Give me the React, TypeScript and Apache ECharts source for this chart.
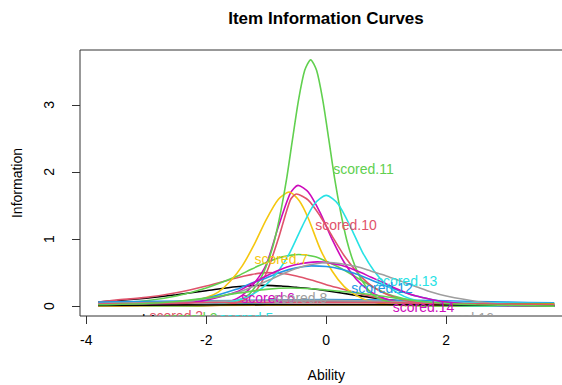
import React, { useEffect, useRef } from "react";
import * as echarts from "echarts";

type Pt = [number, number];

// R default palette (colour of item i = palette[(i-1) % 8])
const PALETTE = ["#000000", "#DF536B", "#61D04F", "#2297E6", "#28E2E5", "#CD0BBC", "#F5C710", "#9E9E9E"];

const xTicks = [-4, -2, 0, 2, 4];
const yTicks = [0, 1, 2, 3];

// Item information curves, [ability, information]
const scored1: Pt[] = [[-3.8, 0.06], [-3, 0.12], [-2.5, 0.17], [-2, 0.23], [-1.5, 0.29], [-1, 0.31], [-0.75, 0.3], [-0.5, 0.28], [-0.25, 0.26], [0, 0.23], [0.5, 0.16], [1, 0.1], [1.5, 0.06], [2, 0.03], [2.5, 0.015], [3, 0.006], [3.8, 0.0]];
const scored2: Pt[] = [[-3.8, 0.06], [-3.5, 0.09], [-3, 0.13], [-2.5, 0.2], [-2, 0.3], [-1.5, 0.42], [-1.25, 0.47], [-1, 0.5], [-0.75, 0.49], [-0.5, 0.45], [-0.25, 0.39], [0, 0.32], [0.25, 0.26], [0.5, 0.2], [0.75, 0.145], [1, 0.1], [1.5, 0.05], [2, 0.02], [2.5, 0.01], [3.8, 0.0]];
const scored3: Pt[] = [[-3.8, 0.03], [-3, 0.08], [-2.5, 0.15], [-2, 0.27], [-1.5, 0.44], [-1.25, 0.55], [-1, 0.65], [-0.75, 0.73], [-0.46, 0.77], [-0.2, 0.74], [0, 0.67], [0.25, 0.56], [0.5, 0.43], [0.75, 0.3], [1, 0.19], [1.25, 0.12], [1.5, 0.07], [2, 0.03], [2.5, 0.01], [3.8, 0.0]];
const scored4: Pt[] = [[-3.8, 0.06], [-2, 0.08], [-1, 0.09], [0, 0.1], [1, 0.09], [2, 0.08], [3, 0.06], [3.8, 0.05]];
const scored5: Pt[] = [[-3.8, 0.0], [-2.5, 0.02], [-1.5, 0.04], [-0.5, 0.06], [0.5, 0.07], [1.5, 0.06], [2.5, 0.05], [3.8, 0.04]];
const scored6: Pt[] = [[-3.8, 0.0], [-2.5, 0.002], [-2, 0.013], [-1.8, 0.03], [-1.6, 0.07], [-1.4, 0.16], [-1.2, 0.34], [-1.0, 0.62], [-0.8, 1.18], [-0.6, 1.68], [-0.47, 1.8], [-0.3, 1.7], [-0.1, 1.39], [0.1, 0.99], [0.3, 0.65], [0.5, 0.4], [0.7, 0.24], [0.9, 0.14], [1.1, 0.08], [1.4, 0.035], [1.8, 0.01], [2.5, 0.002], [3.8, 0.0]];
const scored7: Pt[] = [[-3.8, 0.0], [-3, 0.007], [-2.5, 0.03], [-2, 0.13], [-1.8, 0.21], [-1.6, 0.37], [-1.4, 0.6], [-1.2, 0.92], [-1.0, 1.29], [-0.8, 1.59], [-0.62, 1.7], [-0.45, 1.57], [-0.3, 1.31], [-0.1, 0.85], [0.1, 0.52], [0.3, 0.29], [0.5, 0.16], [0.7, 0.08], [1, 0.03], [1.5, 0.005], [3.8, 0.0]];
const scored8: Pt[] = [[-3.8, 0.04], [-2.5, 0.06], [-1.5, 0.08], [-0.5, 0.09], [0.5, 0.08], [1.5, 0.06], [2.5, 0.04], [3.8, 0.03]];
const scored9: Pt[] = [[-3.8, 0.02], [-2, 0.02], [0, 0.025], [2, 0.025], [3.8, 0.03]];
const scored10: Pt[] = [[-3.8, 0.0], [-2.5, 0.001], [-2, 0.005], [-1.6, 0.03], [-1.4, 0.08], [-1.2, 0.2], [-1.0, 0.49], [-0.8, 1.0], [-0.6, 1.58], [-0.5, 1.67], [-0.3, 1.58], [-0.1, 1.34], [0.1, 1.04], [0.3, 0.75], [0.5, 0.52], [0.7, 0.34], [0.9, 0.22], [1.1, 0.145], [1.4, 0.07], [1.8, 0.03], [2.5, 0.005], [3.8, 0.0]];
const scored11: Pt[] = [[-3.8, 0.0], [-2.26, 0.002], [-1.76, 0.025], [-1.46, 0.09], [-1.28, 0.18], [-1.16, 0.32], [-1.06, 0.47], [-0.96, 0.69], [-0.86, 0.99], [-0.76, 1.4], [-0.66, 1.9], [-0.56, 2.5], [-0.46, 3.08], [-0.36, 3.51], [-0.26, 3.67], [-0.16, 3.51], [-0.06, 3.08], [0.04, 2.5], [0.14, 1.9], [0.24, 1.4], [0.34, 0.99], [0.44, 0.69], [0.54, 0.47], [0.64, 0.32], [0.76, 0.18], [0.94, 0.09], [1.24, 0.025], [1.74, 0.002], [3.8, 0.0]];
const scored12: Pt[] = [[-3.8, 0.01], [-3, 0.03], [-2.5, 0.06], [-2, 0.12], [-1.5, 0.25], [-1.25, 0.34], [-1, 0.42], [-0.75, 0.51], [-0.5, 0.57], [-0.25, 0.6], [0, 0.59], [0.25, 0.55], [0.5, 0.48], [0.75, 0.39], [1, 0.3], [1.25, 0.22], [1.5, 0.15], [2, 0.06], [2.5, 0.02], [3, 0.01], [3.8, 0.0]];
const scored13: Pt[] = [[-3.8, 0.0], [-2.5, 0.005], [-2, 0.02], [-1.7, 0.045], [-1.4, 0.11], [-1.2, 0.19], [-1.0, 0.32], [-0.8, 0.52], [-0.6, 0.81], [-0.4, 1.19], [-0.2, 1.52], [0, 1.65], [0.2, 1.52], [0.4, 1.19], [0.6, 0.81], [0.8, 0.52], [1.0, 0.32], [1.2, 0.19], [1.4, 0.11], [1.7, 0.045], [2, 0.02], [2.5, 0.005], [3.8, 0.0]];
const scored14: Pt[] = [[-3.8, 0.0], [-3, 0.01], [-2.5, 0.03], [-2, 0.09], [-1.5, 0.21], [-1.25, 0.33], [-1, 0.45], [-0.75, 0.55], [-0.5, 0.62], [-0.15, 0.66], [0.25, 0.61], [0.5, 0.53], [0.75, 0.43], [1, 0.33], [1.25, 0.23], [1.5, 0.15], [1.75, 0.1], [2, 0.06], [2.5, 0.02], [3, 0.005], [3.8, 0.0]];
const scored15: Pt[] = [[-3.8, 0.0], [-2, 0.01], [0, 0.02], [2, 0.025], [3.8, 0.03]];
const scored16: Pt[] = [[-3.8, 0.01], [-3, 0.03], [-2.5, 0.06], [-2, 0.11], [-1.5, 0.2], [-1.25, 0.28], [-1, 0.37], [-0.75, 0.47], [-0.5, 0.56], [-0.25, 0.62], [0.05, 0.65], [0.5, 0.59], [0.75, 0.52], [1, 0.45], [1.25, 0.37], [1.5, 0.29], [1.75, 0.21], [2, 0.15], [2.5, 0.07], [3, 0.025], [3.8, 0.005]];
const scored17: Pt[] = [[-3.8, 0.01], [-1, 0.02], [1, 0.02], [3.8, 0.01]];
const scored18: Pt[] = [[-3.8, 0.03], [-2, 0.05], [0, 0.06], [2, 0.04], [3.8, 0.02]];
const scored19: Pt[] = [[-3.8, 0.02], [-3, 0.04], [-2.5, 0.07], [-2, 0.12], [-1.5, 0.19], [-1, 0.25], [-0.6, 0.27], [-0.25, 0.26], [0, 0.24], [0.5, 0.2], [1, 0.14], [1.5, 0.08], [2, 0.04], [2.5, 0.02], [3.8, 0.0]];

const itemCurves: Pt[][] = [scored1, scored2, scored3, scored4, scored5, scored6, scored7, scored8, scored9, scored10, scored11, scored12, scored13, scored14, scored15, scored16, scored17, scored18, scored19];
const itemNames = itemCurves.map((_, i) => "scored." + (i + 1));

// Curve labels (item number, position in data coordinates)
const labelItems = [11, 10, 7, 13, 12, 14, 6, 8, 2, 1, 3, 5, 16];
const labelX = [0.62, 0.33, -0.75, 1.34, 0.93, 1.62, -0.97, -0.43, -2.5, -3.27, -2.26, -1.33, 2.28];
const labelY = [2.05, 1.21, 0.7, 0.38, 0.265, -0.02, 0.12, 0.12, -0.15, -0.2, -0.18, -0.18, -0.18];

const FONT = '"Liberation Sans", Arial, sans-serif';

export default function App() {
  const ref = useRef<HTMLDivElement>(null);

  useEffect(() => {
    if (!ref.current) return;
    const chart = echarts.init(ref.current, undefined, { renderer: "svg" });

    const lineSeries = itemCurves.map((curve, i) => ({
      type: "line" as const,
      name: itemNames[i],
      data: curve,
      showSymbol: false,
      symbol: "none",
      smooth: 0.25,
      clip: true,
      lineStyle: { width: 1.6, color: PALETTE[i % 8] },
      itemStyle: { color: PALETTE[i % 8] },
      z: 2,
    }));

    const labelData = labelX.map((x, i) => [x, labelY[i], i]);

    chart.setOption({
      animation: false,
      backgroundColor: "#ffffff",
      graphic: [
        {
          type: "text",
          x: 326,
          y: 18,
          style: {
            text: "Item Information Curves",
            font: `bold 17px ${FONT}`,
            fill: "#000",
            align: "center",
            verticalAlign: "middle",
          },
        },
      ],
      grid: {
        left: 80,
        top: 50,
        right: 27.5,
        bottom: 69,
        show: true,
        borderColor: "#333",
        borderWidth: 1,
        backgroundColor: "transparent",
        containLabel: false,
        outerBoundsMode: "none",
      },
      xAxis: {
        type: "value",
        min: -4.104,
        max: 4.104,
        name: "Ability",
        nameLocation: "middle",
        nameGap: 52,
        nameTextStyle: { fontSize: 14, color: "#000", fontFamily: FONT },
        axisLine: { show: false, onZero: false },
        axisTick: { show: true, length: 8, customValues: xTicks, lineStyle: { color: "#333" } },
        axisLabel: {
          customValues: xTicks,
          fontSize: 14,
          color: "#000",
          fontFamily: FONT,
          margin: 17,
          formatter: (v: number) => String(v),
        },
        splitLine: { show: false },
      },
      yAxis: {
        type: "value",
        min: -0.147,
        max: 3.817,
        name: "Information",
        nameLocation: "middle",
        nameGap: 56,
        nameRotate: 90,
        nameTextStyle: { fontSize: 14, color: "#000", fontFamily: FONT },
        axisLine: { show: false, onZero: false },
        axisTick: { show: true, length: 8, customValues: yTicks, lineStyle: { color: "#333" } },
        axisLabel: {
          customValues: yTicks,
          rotate: 90,
          fontSize: 14,
          color: "#000",
          fontFamily: FONT,
          margin: 24,
          formatter: (v: number) => String(v),
        },
        splitLine: { show: false },
      },
      series: [
        ...lineSeries,
        {
          type: "custom",
          name: "labels",
          clip: true,
          z: 5,
          data: labelData,
          encode: { x: 0, y: 1 },
          renderItem: (params: any, api: any) => {
            const idx = params.dataIndex;
            const pt = api.coord([api.value(0), api.value(1)]);
            const item = labelItems[idx];
            return {
              type: "text",
              x: pt[0],
              y: pt[1],
              style: {
                text: "scored." + item,
                fill: PALETTE[(item - 1) % 8],
                font: `14px ${FONT}`,
                align: "center",
                verticalAlign: "middle",
              },
            };
          },
        },
      ],
    });

    return () => chart.dispose();
  }, []);

  return (
    <div
      style={{
        position: "absolute",
        left: 0,
        top: 0,
        width: 562,
        height: 385,
        overflow: "hidden",
        background: "#fff",
      }}
    >
      <div ref={ref} style={{ width: 600, height: 385 }} />
    </div>
  );
}
